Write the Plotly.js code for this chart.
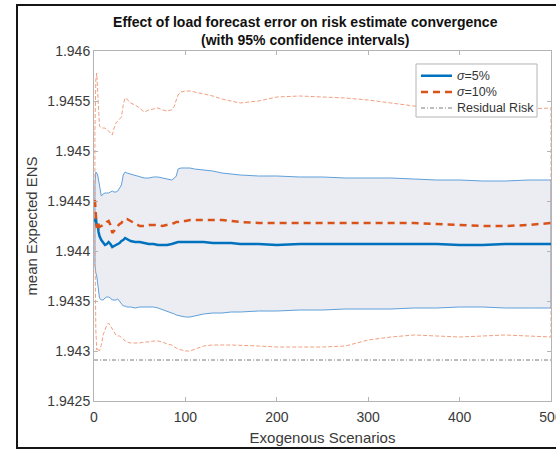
<!DOCTYPE html>
<html>
<head>
<meta charset="utf-8">
<script src="https://cdn.plot.ly/plotly-3.0.1.min.js"></script>
<style>
  html, body { margin: 0; padding: 0; background: #ffffff; overflow: hidden; }
  #wrap { position: relative; width: 556px; height: 449px; }
  #chart { position: absolute; left: 0; top: 0; width: 556px; height: 449px; }
  #frame { position: absolute; left: 16px; top: 4px; width: 620px; height: 441px;
           border: 2px solid #151515; pointer-events: none; }
</style>
</head>
<body>
<div id="wrap">
  <div id="chart"></div>
  <div id="frame"></div>
</div>
<script>
// Number of exogenous scenarios at which the running estimates are plotted
const scenarios = [1, 2, 3, 4, 5, 6, 8, 10, 12, 14, 16, 18, 20, 22, 24, 26, 28, 30, 32, 34, 36,
  40, 45, 50, 55, 60, 65, 70, 75, 80, 85, 88, 90, 92, 95, 100, 105, 110, 120, 130, 140, 150,
  160, 180, 200, 225, 250, 275, 300, 325, 350, 375, 400, 425, 450, 475, 500];

// sigma = 5 %: running mean of expected ENS and its 95 % confidence bounds
const mean5 = [1.94429, 1.94433, 1.94425, 1.94427, 1.94419, 1.94415, 1.94411, 1.94408, 1.94406,
  1.94407, 1.94409, 1.94407, 1.94404, 1.94405, 1.94406, 1.94407, 1.94408, 1.9441, 1.94411,
  1.94413, 1.94412, 1.9441, 1.94409, 1.94409, 1.94408, 1.94407, 1.94407, 1.94406, 1.94406,
  1.94406, 1.94407, 1.94408, 1.94408, 1.94409, 1.94409, 1.94409, 1.94409, 1.94409, 1.94409,
  1.94408, 1.94408, 1.94408, 1.94407, 1.94407, 1.94406, 1.94407, 1.94407, 1.94407, 1.94407,
  1.94407, 1.94407, 1.94407, 1.94406, 1.94406, 1.94407, 1.94407, 1.94407];
const upper5 = [1.94466, 1.94479, 1.94478, 1.94476, 1.94471, 1.94465, 1.94455, 1.94457, 1.94458,
  1.94458, 1.94458, 1.94459, 1.9446, 1.94459, 1.94459, 1.9446, 1.94463, 1.94466, 1.94476,
  1.94479, 1.94478, 1.94477, 1.94475, 1.94474, 1.94473, 1.94473, 1.94474, 1.94474, 1.94473,
  1.94472, 1.94471, 1.94473, 1.94475, 1.94482, 1.94483, 1.94483, 1.94483, 1.94482, 1.94481,
  1.9448, 1.94478, 1.94477, 1.94476, 1.94475, 1.94475, 1.94474, 1.94474, 1.94473, 1.94473,
  1.94473, 1.94472, 1.94471, 1.94471, 1.9447, 1.9447, 1.94471, 1.94471];
const lower5 = [1.94386, 1.94378, 1.94375, 1.94371, 1.94361, 1.94353, 1.94351, 1.94351, 1.94353,
  1.94354, 1.94354, 1.94353, 1.94351, 1.94351, 1.94351, 1.94352, 1.94349, 1.94347, 1.94345,
  1.94345, 1.94344, 1.94344, 1.94343, 1.94344, 1.94344, 1.94344, 1.94344, 1.94343, 1.94342,
  1.9434, 1.94338, 1.94337, 1.94336, 1.94335, 1.94335, 1.94334, 1.94334, 1.94335, 1.94337,
  1.94338, 1.94338, 1.94339, 1.94339, 1.9434, 1.9434, 1.94341, 1.94341, 1.94342, 1.94342,
  1.94342, 1.94343, 1.94343, 1.94344, 1.94344, 1.94343, 1.94343, 1.94343];

// sigma = 10 %: running mean of expected ENS and its 95 % confidence bounds
const mean10 = [1.94451, 1.94438, 1.94423, 1.94429, 1.94427, 1.94424, 1.94425, 1.94426, 1.94427,
  1.94429, 1.9443, 1.94426, 1.94418, 1.9442, 1.94423, 1.94425, 1.94427, 1.94428, 1.94431,
  1.94432, 1.94432, 1.9443, 1.94427, 1.94425, 1.94425, 1.94426, 1.94426, 1.94426, 1.94425,
  1.94426, 1.94427, 1.94428, 1.94429, 1.94429, 1.9443, 1.9443, 1.94431, 1.94431, 1.94431,
  1.94431, 1.94431, 1.9443, 1.94429, 1.94428, 1.94428, 1.94428, 1.94428, 1.94428, 1.94428,
  1.94428, 1.94428, 1.94427, 1.94426, 1.94425, 1.94425, 1.94426, 1.94428];
const upper10 = [1.94521, 1.94571, 1.94578, 1.94561, 1.94541, 1.94525, 1.94523, 1.94523, 1.94523,
  1.94521, 1.9452, 1.94518, 1.94516, 1.94523, 1.94528, 1.9453, 1.94532, 1.94534, 1.94546,
  1.94553, 1.94552, 1.94548, 1.94546, 1.94543, 1.94539, 1.94541, 1.94542, 1.94543, 1.94541,
  1.9454, 1.94541, 1.94545, 1.94551, 1.94556, 1.94559, 1.9456, 1.9456, 1.94559, 1.94557,
  1.94555, 1.94552, 1.9455, 1.94548, 1.9455, 1.94554, 1.94555, 1.94554, 1.94553, 1.94551,
  1.94548, 1.94545, 1.94543, 1.94542, 1.94541, 1.94541, 1.94542, 1.94543];
const lower10 = [1.94411, 1.94321, 1.94301, 1.94303, 1.94301, 1.943, 1.94306, 1.94316, 1.94321,
  1.94326, 1.94328, 1.94325, 1.94322, 1.94319, 1.94316, 1.94315, 1.94315, 1.94314, 1.94312,
  1.9431, 1.94309, 1.94308, 1.94308, 1.94308, 1.94309, 1.94309, 1.9431, 1.9431, 1.94309,
  1.94307, 1.94306, 1.94304, 1.94303, 1.94302, 1.94301, 1.943, 1.943, 1.94302, 1.94305,
  1.94306, 1.94306, 1.94306, 1.94306, 1.94305, 1.94304, 1.94304, 1.94304, 1.94305, 1.94311,
  1.94314, 1.94316, 1.94315, 1.94314, 1.94315, 1.94316, 1.94315, 1.94314];

// Residual risk level (constant reference)
const residualRisk = 1.94291;

// Axis ticks
const xTicks = [0, 100, 200, 300, 400, 500];
const yTicks = [1.9425, 1.943, 1.9435, 1.944, 1.9445, 1.945, 1.9455, 1.946];
const yTickText = ['1.9425', '1.943', '1.9435', '1.944', '1.9445', '1.945', '1.9455', '1.946'];

// Legend entries
const legendLabels = ['<i>σ</i>=5%', '<i>σ</i>=10%', 'Residual Risk'];

// closed outline: upper bound forward, lower bound backward, back to start
function band(xs, up, lo) {
  const x = xs.concat(xs.slice().reverse(), [xs[0]]);
  const y = up.concat(lo.slice().reverse(), [up[0]]);
  return { x, y };
}

const BLUE = '#0072bd';
const ORANGE = '#d95319';
const GREY = '#7a7a7a';
const DASHDOT = '4px,2px,1px,2px';
const FONT = 'Liberation Sans, Arial, Helvetica, sans-serif';

const b5 = band(scenarios, upper5, lower5);
const b10 = band(scenarios, upper10, lower10);

const traces = [
  {
    x: b5.x, y: b5.y, type: 'scatter', mode: 'lines',
    fill: 'toself', fillcolor: 'rgb(236,236,243)',
    line: { color: 'rgb(95,160,218)', width: 1 },
    hoverinfo: 'skip'
  },
  {
    x: b10.x, y: b10.y, type: 'scatter', mode: 'lines',
    line: { color: 'rgb(242,160,128)', width: 1, dash: '4px,2px' },
    hoverinfo: 'skip'
  },
  {
    x: [0, 500], y: [residualRisk, residualRisk], type: 'scatter', mode: 'lines',
    line: { color: GREY, width: 1, dash: DASHDOT }
  },
  {
    x: scenarios, y: mean5, type: 'scatter', mode: 'lines',
    line: { color: BLUE, width: 2.5 }
  },
  {
    x: scenarios, y: mean10, type: 'scatter', mode: 'lines',
    line: { color: ORANGE, width: 2.5, dash: '7px,5px' }
  }
];

// Legend box drawn in the upper-right corner of the axes (paper coordinates)
const legendStyles = [
  { color: BLUE, width: 2.5, dash: 'solid' },
  { color: ORANGE, width: 2.5, dash: '7px,5px' },
  { color: GREY, width: 1, dash: DASHDOT }
];
const legX0 = 0.7046, legX1 = 0.9694, legY0 = 0.8114, legY1 = 0.9629;
const rowY = [0.9294, 0.8829, 0.8371];
const sampleX0 = 0.7155, sampleX1 = 0.7834, textX = 0.7899;

const shapes = [{
  type: 'rect', xref: 'paper', yref: 'paper',
  x0: legX0, x1: legX1, y0: legY0, y1: legY1,
  fillcolor: '#ffffff', line: { color: '#b4b4b4', width: 1 }, layer: 'above'
}];
const annotations = [];
legendLabels.forEach((lab, i) => {
  shapes.push({
    type: 'line', xref: 'paper', yref: 'paper',
    x0: sampleX0, x1: sampleX1, y0: rowY[i], y1: rowY[i],
    line: legendStyles[i], layer: 'above'
  });
  annotations.push({
    xref: 'paper', yref: 'paper', x: textX, y: rowY[i],
    xanchor: 'left', yanchor: 'middle', showarrow: false,
    text: lab, font: { family: FONT, size: 12.5, color: '#333' }
  });
});

const axisCommon = {
  showline: true, linecolor: '#b4b4b4', linewidth: 1, mirror: 'ticks',
  ticks: 'inside', ticklen: 4, tickcolor: '#b4b4b4', tickwidth: 1,
  showgrid: false, zeroline: false, ticklabeloverflow: 'allow',
  tickfont: { family: FONT, size: 14, color: '#3a3a3a' }
};

const layout = {
  width: 556, height: 449,
  margin: { l: 94, r: 5, t: 51, b: 48 },
  paper_bgcolor: '#ffffff', plot_bgcolor: '#ffffff',
  font: { family: FONT, color: '#222' },
  showlegend: false,
  title: {
    text: '<b>Effect of load forecast error on risk estimate convergence</b><br><b>(with 95% confidence intervals)</b>',
    font: { family: FONT, size: 14, color: '#111' },
    xref: 'container', x: 0.549, xanchor: 'center',
    yref: 'container', y: 0.94, yanchor: 'top'
  },
  xaxis: Object.assign({}, axisCommon, {
    range: [0, 500], tickvals: xTicks, ticklabelstandoff: 3,
    title: { text: 'Exogenous Scenarios', font: { family: FONT, size: 15, color: '#3a3a3a' }, standoff: 8 }
  }),
  yaxis: Object.assign({}, axisCommon, {
    range: [1.9425, 1.946], tickvals: yTicks, ticktext: yTickText,
    title: { text: 'mean Expected ENS', font: { family: FONT, size: 15, color: '#3a3a3a' }, standoff: 6 }
  }),
  shapes: shapes,
  annotations: annotations
};

Plotly.newPlot('chart', traces, layout, { displayModeBar: false, staticPlot: true });
</script>
</body>
</html>
